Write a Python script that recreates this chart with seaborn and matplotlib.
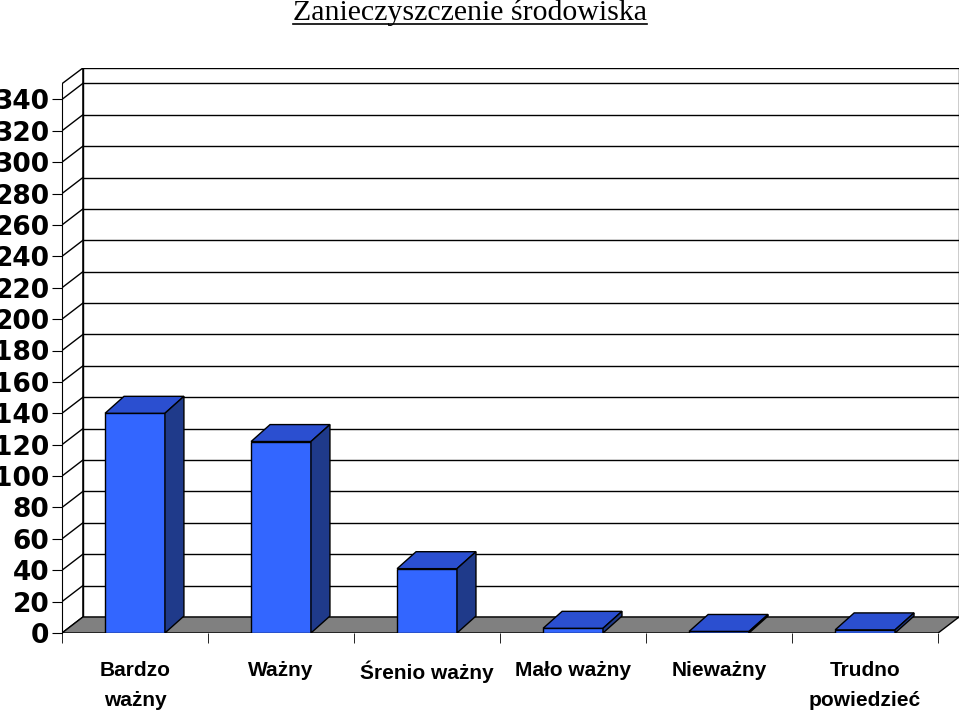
import matplotlib
matplotlib.use("Agg")
import matplotlib.pyplot as plt
import seaborn as sns
from matplotlib.patches import Polygon
from matplotlib.lines import Line2D

categories = ["Bardzo\nważny", "Ważny", "Śrenio ważny", "Mało ważny", "Nieważny", "Trudno\npowiedzieć"]
values = [140, 122, 41, 3, 1, 2]
yticks = list(range(0, 341, 20))
title = "Zanieczyszczenie środowiska"

# depth of the fake 3D effect, in data units
DX, DY = 0.143, 10.2

fig = plt.figure(figsize=(9.6, 7.1), dpi=100)
ax = fig.add_axes([62 / 960, (710 - 633) / 710, 897 / 960, 565 / 710])
n = len(categories)
x0, x1 = -0.5, n - 0.5

# walls and floor
ax.add_patch(Polygon([(x0 + DX, DY), (x1 + DX, DY), (x1 + DX, 360), (x0 + DX, 360)],
                     closed=True, facecolor="white", edgecolor="black", lw=1, zorder=0))
ax.add_patch(Polygon([(x0, 0), (x0, 350), (x0 + DX, 360), (x0 + DX, DY)],
                     closed=True, facecolor="white", edgecolor="black", lw=1, zorder=0))
for t in yticks[1:]:
    ax.plot([x0 + DX, x1 + DX], [t + DY, t + DY], color="black", lw=1, zorder=1)
    ax.plot([x0, x0 + DX], [t, t + DY], color="black", lw=1, zorder=1)
ax.add_patch(Polygon([(x0, 0), (x1, 0), (x1 + DX, DY), (x0 + DX, DY)],
                     closed=True, facecolor="#808080", edgecolor="black", lw=1, zorder=2))

sns.barplot(x=list(range(n)), y=values, width=0.41, color="#3366FF",
            edgecolor="black", linewidth=1, saturation=1, ax=ax, zorder=4, native_scale=True)

bdx, bdy = 0.13, 10.8
for p in ax.patches[3:]:
    if not hasattr(p, "get_width"):
        continue
    l, b, w, h = p.get_x(), p.get_y(), p.get_width(), p.get_height()
    ax.add_patch(Polygon([(l, h), (l + w, h), (l + w + bdx, h + bdy), (l + bdx, h + bdy)],
                         closed=True, facecolor="#2B4FD0", edgecolor="black", lw=1, zorder=5))
    ax.add_patch(Polygon([(l + w, 0), (l + w + bdx, bdy), (l + w + bdx, h + bdy), (l + w, h)],
                         closed=True, facecolor="#1F3A8A", edgecolor="black", lw=1, zorder=5))

ax.set_xlim(x0, x1 + DX)
ax.set_ylim(0, 360)
for s in ["top", "right", "bottom"]:
    ax.spines[s].set_visible(False)
ax.spines["left"].set_bounds(0, 350)
ax.spines["left"].set_zorder(6)
ax.set_yticks(yticks)
ax.set_yticklabels([str(t) for t in yticks], fontsize=19, fontweight="bold",
                   family="Liberation Sans Narrow")
ax.tick_params(axis="y", direction="out", length=7, pad=2)
ax.set_xticks(range(n))
ax.set_xticklabels(categories, fontsize=15, fontweight="bold", family="Liberation Sans",
                   linespacing=1.75)
ax.set_xticks([x0 + i for i in range(n + 1)], minor=True)
ax.tick_params(axis="x", which="major", length=0, pad=20)
ax.tick_params(axis="x", which="minor", length=7, direction="out")
ax.set_xlabel("")
ax.set_ylabel("")

t = fig.text(470 / 960, 1 - 12 / 710, title, ha="center", va="center",
             fontsize=21.5, family="Liberation Serif")
fig.canvas.draw()
bb = t.get_window_extent().transformed(fig.transFigure.inverted())
fig.add_artist(Line2D([bb.x0, bb.x1], [bb.y0 + 0.002, bb.y0 + 0.002], color="black", lw=1.2))

fig.savefig("out.png", dpi=100)
